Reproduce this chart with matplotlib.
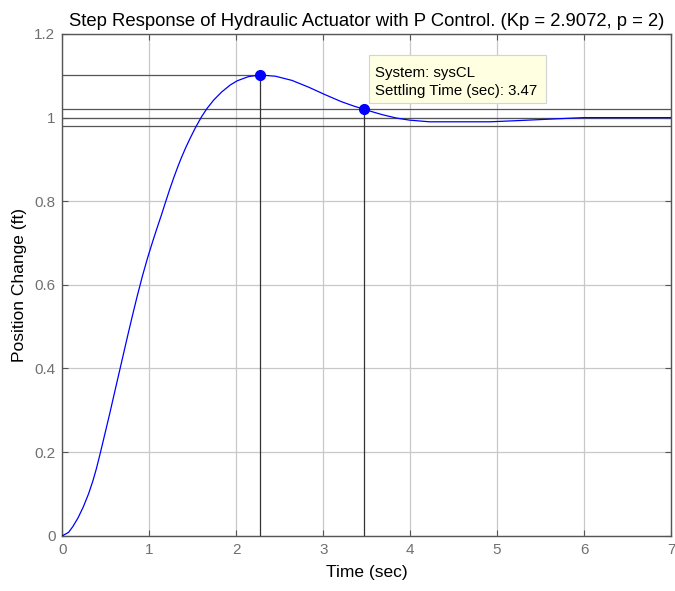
import numpy as np
from matplotlib import pyplot as plt
from matplotlib.patches import Rectangle

plt.rcParams['font.family'] = ['Liberation Sans', 'DejaVu Sans']

# step response
t_vals = [0, 0.07, 0.12, 0.18, 0.24, 0.30, 0.35, 0.39, 0.43, 0.49, 0.545, 0.59,
          0.64, 0.69, 0.75, 0.80, 0.86, 0.92, 0.98, 1.04, 1.09, 1.14, 1.18, 1.23,
          1.28, 1.33, 1.37, 1.42, 1.47, 1.53, 1.60, 1.66, 1.74, 1.83, 1.93, 2.01,
          2.14, 2.27, 2.45, 2.64, 2.83, 3.02, 3.21, 3.36, 3.47, 3.58, 3.68, 3.84,
          3.99, 4.22, 4.92, 5.26, 5.57, 6.0, 7.0]
y_vals = [0, 0.008, 0.022, 0.043, 0.069, 0.100, 0.131, 0.160, 0.193, 0.245,
          0.293, 0.334, 0.379, 0.424, 0.478, 0.522, 0.573, 0.621, 0.665, 0.705,
          0.737, 0.768, 0.794, 0.826, 0.856, 0.884, 0.905, 0.929, 0.951, 0.976,
          1.002, 1.021, 1.042, 1.061, 1.078, 1.088, 1.098, 1.102, 1.099, 1.089,
          1.073, 1.055, 1.038, 1.027, 1.020, 1.013, 1.007, 0.999, 0.994, 0.990,
          0.990, 0.993, 0.996, 1.000, 1.000]

peak_time, peak_value = 2.27, 1.102
settle_time, settle_value = 3.47, 1.02
band_levels = [0.98, 1.0, 1.02]
tip_text = 'System: sysCL\nSettling Time (sec): 3.47'

x_ticks = [0, 1, 2, 3, 4, 5, 6, 7]
y_ticks = [0, 0.2, 0.4, 0.6, 0.8, 1, 1.2]
y_ticklabels = ['0', '0.2', '0.4', '0.6', '0.8', '1', '1.2']

fig = plt.figure(figsize=(6.75, 5.91), dpi=100)
ax = fig.add_axes([0.0925, 0.0935, 0.9015, 0.849])

ax.set_xlim(0, 7)
ax.set_ylim(0, 1.2)
ax.set_xticks(x_ticks)
ax.set_yticks(y_ticks)
ax.set_yticklabels(y_ticklabels)
ax.grid(True, color='#c8c8c8', lw=0.9, zorder=0)
ax.set_axisbelow(True)

line_col = '#555555'
for lv in band_levels:
    ax.axhline(lv, color=line_col, lw=0.9, zorder=1)
ax.plot([0, peak_time], [peak_value, peak_value], color=line_col, lw=0.9, zorder=1)
ax.plot([peak_time, peak_time], [0, peak_value], color='#333333', lw=0.9, zorder=1)
ax.plot([settle_time, settle_time], [0, settle_value], color='#333333', lw=0.9, zorder=1)

ax.plot(t_vals, y_vals, color='#0000ff', lw=0.9, zorder=3)
ax.plot([peak_time, settle_time], [peak_value, settle_value], 'o', color='#0000ff',
        ms=7, ls='none', zorder=4)

# data tip box
ax.add_patch(Rectangle((3.525, 1.035), 2.035, 0.115, fc='#ffffe1', ec='#d4d4d4',
                       lw=0.8, zorder=5))
ax.text(3.594, 1.0854, tip_text, fontsize=10.8, ha='left', va='center',
        linespacing=1.3, zorder=6)

for s in ax.spines.values():
    s.set_color('#555555')
    s.set_linewidth(1.0)
ax.tick_params(direction='in', length=4, color='#555555', labelcolor='#707070',
               labelsize=11, top=True, right=True, pad=5)

ax.set_title('Step Response of Hydraulic Actuator with P Control. (Kp = 2.9072, p = 2)',
             fontsize=13.3, pad=6)
ax.set_xlabel('Time (sec)', fontsize=12.5, labelpad=6)
ax.set_ylabel('Position Change (ft)', fontsize=12.5, labelpad=5)

fig.savefig('out.png', dpi=100)
